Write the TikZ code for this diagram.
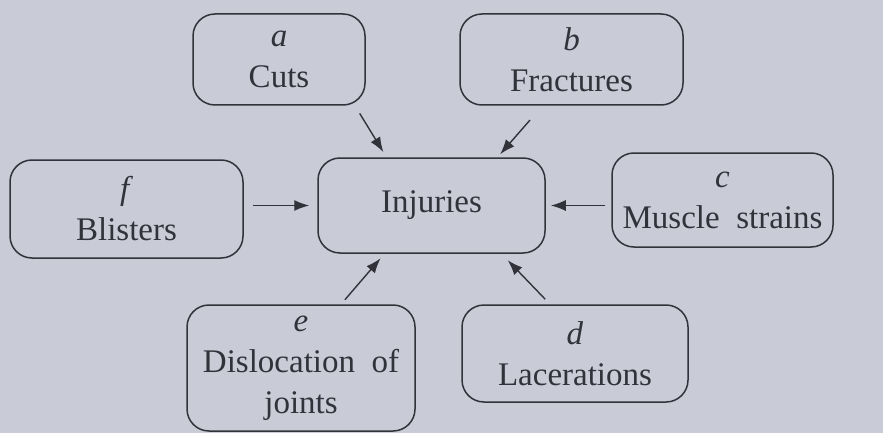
\documentclass[tikz,border=0pt]{standalone}
\usepackage{fontspec}
\setmainfont{Liberation Serif}
\usetikzlibrary{arrows.meta, calc, positioning}
\definecolor{paper}{RGB}{201,203,215}
\definecolor{ink}{RGB}{50,50,58}
\begin{document}
\begin{tikzpicture}[x=1pt, y=-1pt,
    box/.style={draw=ink, line width=1.5pt, rounded corners=22pt, align=center,
                inner sep=0pt, text=ink, font=\fontsize{33}{41}\selectfont},
    arr/.style={draw=ink, line width=1.4pt, -{Latex[length=15pt,width=11pt]}}]
    % Paper
    \fill[paper] (0,0) rectangle (883,433);
    \useasboundingbox (0,0) rectangle (883,433);

    % Centre
    \node[box, minimum width=227pt, minimum height=95pt] (inj) at (431.5,205.5) {Injuries};

    % Causes
    \node[box, minimum width=172pt, minimum height=91pt] (cuts) at (279,59.5) {\textit{a}\\Cuts};
    \node[box, minimum width=223pt, minimum height=91pt] (frac) at (571.5,59.5) {\textit{b}\\Fractures};
    \node[box, minimum width=221pt, minimum height=94pt] (musc) at (722.5,200) {\textit{c}\\Muscle\ \ strains};
    \node[box, minimum width=226pt, minimum height=97pt] (lace) at (575,353.5) {\textit{d}\\Lacerations};
    \node[box, minimum width=228pt, minimum height=126pt] (disl) at (301,368) {\textit{e}\\Dislocation\ \ of\\joints};
    \node[box, minimum width=233pt, minimum height=98pt] (blis) at (126.5,209) {\textit{f}\\Blisters};

    % Arrows
    \draw[arr, shorten <=9pt, shorten >=6pt] ([xshift=76pt]cuts.south) -- ([xshift=-45pt]inj.north);
    \draw[arr, shorten <=19pt, shorten >=4pt] ([xshift=-29pt]frac.south) -- ([xshift=66pt]inj.north);
    \draw[arr, shorten <=6pt, shorten >=5pt] (musc.west |- inj.east) -- (inj.east);
    \draw[arr, shorten <=7pt, shorten >=9pt] ([xshift=-25pt]lace.north) -- ([xshift=70pt]inj.south);
    \draw[arr, shorten <=6pt, shorten >=6pt] ([xshift=40pt]disl.north) -- ([xshift=-47pt]inj.south);
    \draw[arr, shorten <=9pt, shorten >=8pt] (blis.east |- inj.west) -- (inj.west);
\end{tikzpicture}
\end{document}
